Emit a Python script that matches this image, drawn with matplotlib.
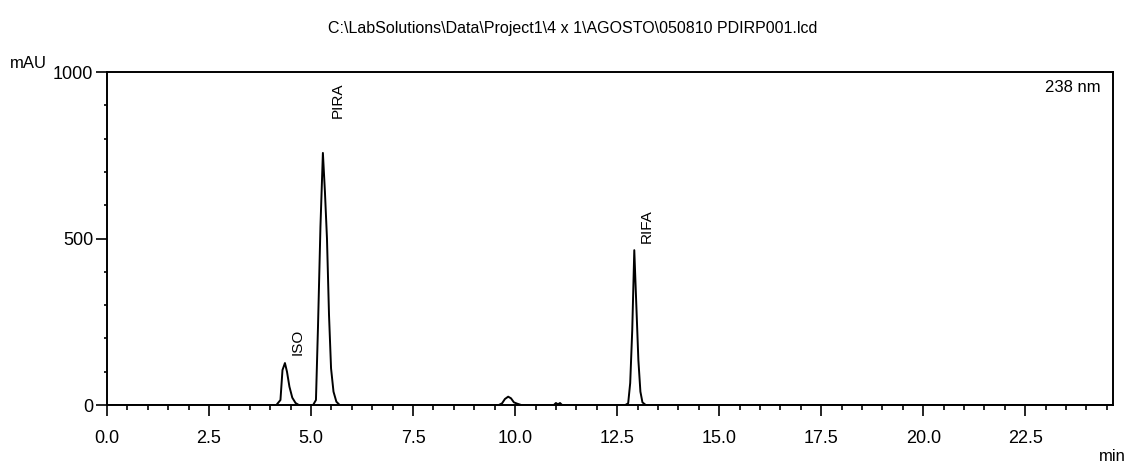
import numpy as np
import matplotlib
matplotlib.use('Agg')
import matplotlib.pyplot as plt
from matplotlib.ticker import MultipleLocator

# Cromatograma leido a mano de la imagen (min, mAU)
t_iso = [4.15, 4.25, 4.30, 4.36, 4.41, 4.47, 4.54, 4.62, 4.70]
a_iso = [0, 15, 105, 126, 100, 55, 22, 6, 0]

t_pira = [5.05, 5.12, 5.17, 5.23, 5.29, 5.34, 5.39, 5.44, 5.49, 5.55, 5.62, 5.70]
a_pira = [0, 15, 235, 535, 757, 640, 500, 270, 110, 40, 10, 0]

t_p10 = [9.60, 9.68, 9.75, 9.83, 9.90, 9.97, 10.05, 10.15]
a_p10 = [0, 5, 18, 25, 20, 8, 4, 0]

t_p11 = [10.95, 11.00, 11.05, 11.10, 11.15]
a_p11 = [0, 6, 2, 6, 0]

t_rifa = [12.70, 12.77, 12.82, 12.87, 12.92, 12.97, 13.02, 13.07, 13.12, 13.20]
a_rifa = [0, 5, 66, 225, 465, 300, 135, 40, 8, 0]

t_fin = [24.65]
a_fin = [0]

picos = ['ISO', 'PIRA', 'RIFA']
pos_picos = [(4.68, 150), (5.66, 862), (13.23, 486)]

tiempo = [0.0] + t_iso + t_pira + t_p10 + t_p11 + t_rifa + t_fin
senal = [0] + a_iso + a_pira + a_p10 + a_p11 + a_rifa + a_fin

plt.rcParams['font.family'] = ['Liberation Sans', 'DejaVu Sans']

fig = plt.figure(figsize=(11.3, 4.73), dpi=100)
ax = fig.add_axes([107/1130, 1-405/473, (1113-107)/1130, (405-72)/473])

ax.plot(tiempo, senal, color='black', lw=1.4)

for nombre, (x, y) in zip(picos, pos_picos):
    ax.text(x, y, nombre, rotation=90, ha='center', va='bottom', fontsize=11)

ax.set_xlim(0, 24.65)
ax.set_ylim(0, 1000)
ax.xaxis.set_major_locator(MultipleLocator(2.5))
ax.xaxis.set_minor_locator(MultipleLocator(0.5))
ax.yaxis.set_major_locator(MultipleLocator(500))
ax.yaxis.set_minor_locator(MultipleLocator(100))
ax.set_xticks(np.arange(0, 24.6, 2.5))
ax.set_xticklabels(['%.1f' % v for v in np.arange(0, 24.6, 2.5)])
ax.set_yticks([0, 500, 1000])
ax.set_yticklabels(['0', '500', '1000'])
ax.tick_params(axis='x', which='major', length=8, width=1.2, labelsize=13, pad=10)
ax.tick_params(axis='x', which='minor', length=3.5, width=1.2)
ax.tick_params(axis='y', which='major', length=8, width=1.2, labelsize=13, pad=2)
ax.tick_params(axis='y', which='minor', length=2.5, width=1.2)
for s in ax.spines.values():
    s.set_linewidth(1.4)

fig.text(573/1130, 1-28/473, r'C:\LabSolutions\Data\Project1\4 x 1\AGOSTO\050810 PDIRP001.lcd',
         ha='center', va='center', fontsize=11.5)
fig.text(10/1130, 1-68/473, 'mAU', ha='left', va='baseline', fontsize=12)
fig.text(1126/1130, 1-461/473, 'min', ha='right', va='baseline', fontsize=12)
ax.text(0.988, 0.975, '238 nm', transform=ax.transAxes, ha='right', va='top', fontsize=12)

fig.savefig('out.png', dpi=100, facecolor='white')
